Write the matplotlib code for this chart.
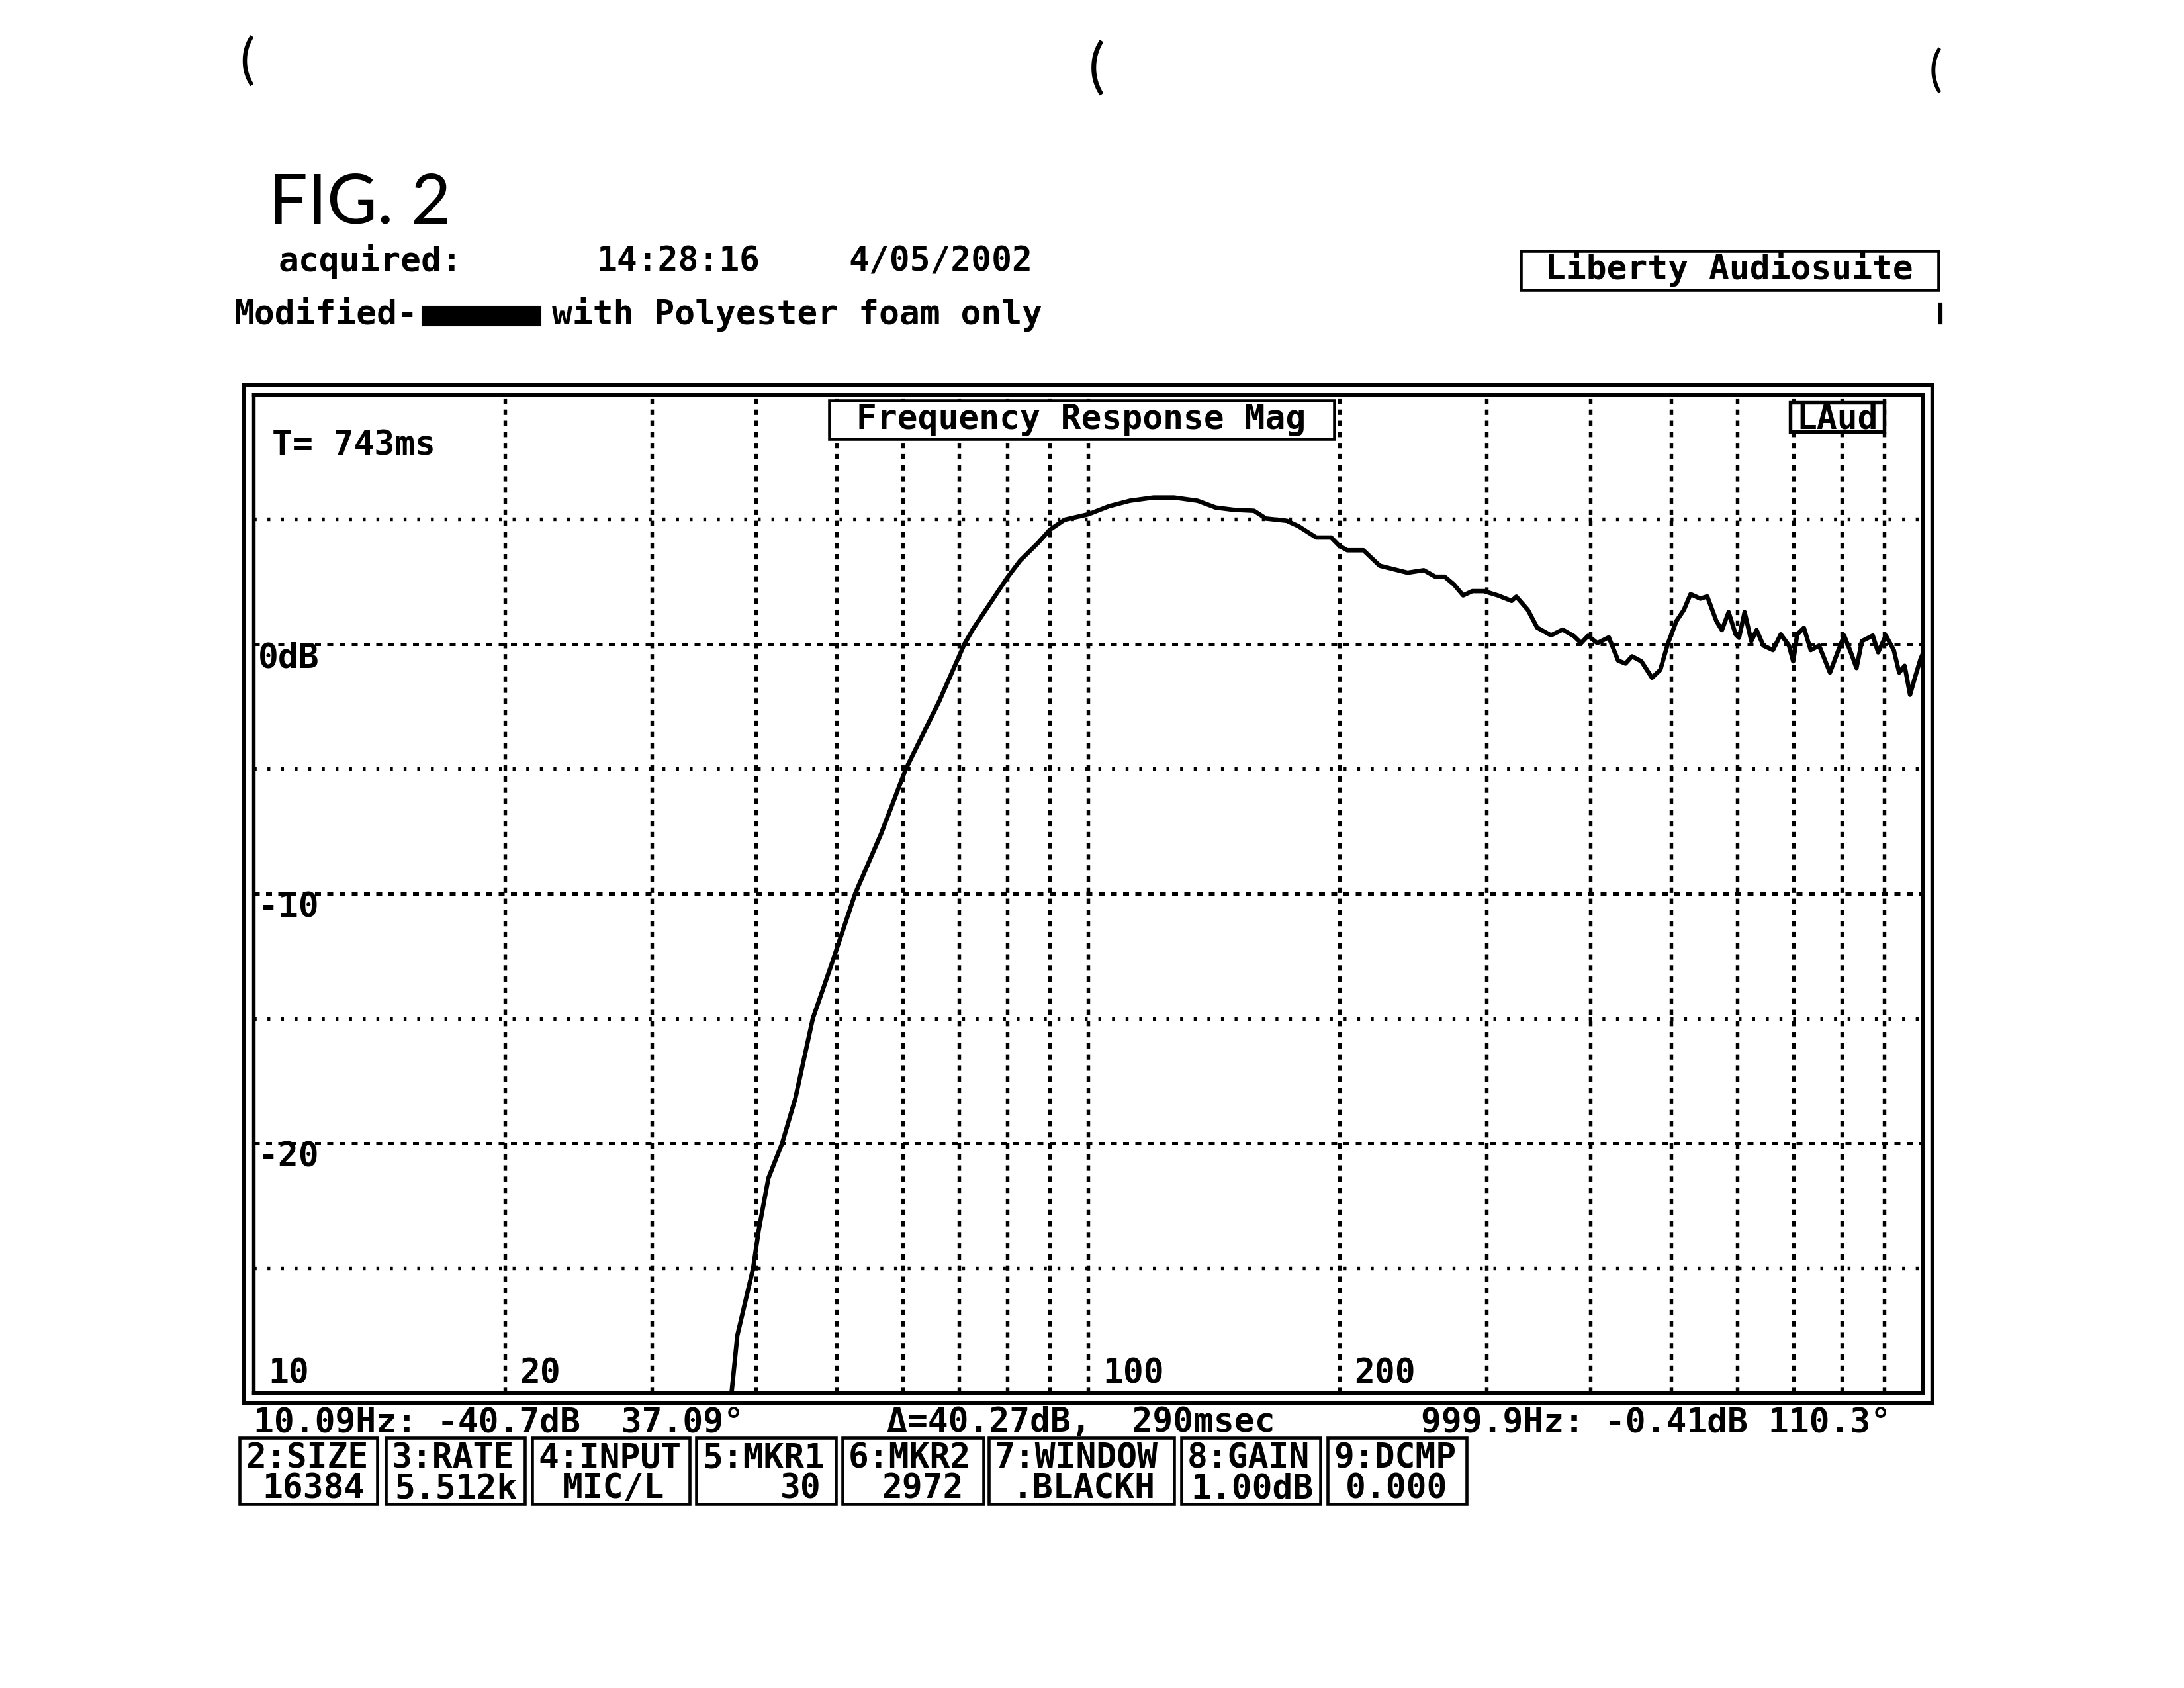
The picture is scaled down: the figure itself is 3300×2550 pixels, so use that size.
import matplotlib
matplotlib.use("Agg")
import matplotlib.pyplot as plt
from matplotlib.patches import Rectangle
from matplotlib.lines import Line2D

# Frequency response trace
freq_hz = [37.4, 38.0, 39.7, 40.3, 41.4, 43.0, 44.6, 46.8, 49.2, 52.6,
           56.5, 60.5, 66.3, 71.1, 72.8, 76.4, 79.9, 82.9, 87.1, 90.0,
           93.7, 100.1, 105.9, 112.2, 119.8, 126.8, 135.3, 142.2, 149.3, 158.1,
           163.4, 173.0, 178.8, 187.7, 195.6, 200.0, 204.5, 213.8, 223.6, 232.4,
           241.5, 252.5, 260.7, 267.5, 274.4, 281.5, 288.7, 298.1, 309.7, 321.8,
           326.0, 336.5, 345.3, 358.7, 370.4, 382.4, 389.8, 397.3, 407.6, 420.8,
           431.7, 440.6, 448.6, 460.3, 474.0, 485.0, 495.0, 507.0, 517.6, 527.2,
           541.6, 552.0, 566.2, 574.8, 585.6, 597.0, 602.6, 612.0, 623.4, 632.6,
           644.5, 661.8, 676.2, 691.7, 699.8, 707.6, 720.8, 734.5, 751.6, 774.5,
           791.0, 805.4, 820.4, 833.3, 845.9, 871.6, 884.6, 903.6, 923.6, 937.5,
           951.7, 966.0, 979.5, 994.3, 999.9]
level_db = [-30.0, -27.7, -25.0, -23.5, -21.4, -20.0, -18.2, -15.0, -12.9, -10.0,
            -7.6, -5.0, -2.3, 0.0, 0.6, 1.65, 2.63, 3.34, 4.05, 4.58,
            4.98, 5.2, 5.52, 5.74, 5.87, 5.87, 5.74, 5.47, 5.38, 5.34,
            5.03, 4.94, 4.72, 4.27, 4.27, 3.94, 3.76, 3.76, 3.14, 3.0,
            2.86, 2.96, 2.70, 2.70, 2.39, 1.95, 2.12, 2.12, 1.95, 1.73,
            1.90, 1.37, 0.66, 0.35, 0.58, 0.31, 0.04, 0.33, 0.04, 0.27,
            -0.66, -0.78, -0.49, -0.69, -1.35, -1.03, 0.0, 0.92, 1.37, 2.0,
            1.82, 1.91, 0.92, 0.56, 1.28, 0.39, 0.25, 1.28, 0.12, 0.56,
            -0.06, -0.24, 0.39, -0.06, -0.69, 0.39, 0.65, -0.24, -0.06, -1.14,
            -0.33, 0.34, -0.33, -0.96, 0.12, 0.34, -0.33, 0.34, -0.24, -1.14,
            -0.87, -2.03, -1.32, -0.6, -0.41]

x_grid_hz = [20, 30, 40, 50, 60, 70, 80, 90, 100, 200, 300, 400, 500, 600, 700, 800, 900]
y_major_db = [-20, -10, 0]
y_minor_db = [-25, -15, -5, 5]

x_label_hz = [10, 20, 100, 200]
x_labels = ["10", "20", "100", "200"]
y_label_db = [0, -10, -20]
y_labels = ["0dB", "-10", "-20"]

acquired_time = "14:28:16"
acquired_date = "4/05/2002"
status_left = "10.09Hz: -40.7dB  37.09\u00b0"
status_mid = "\u0394=40.27dB,  290msec"
status_right = "999.9Hz: -0.41dB 110.3\u00b0"

param_names = ["2:SIZE", "3:RATE", "4:INPUT", "5:MKR1", "6:MKR2", "7:WINDOW", "8:GAIN", "9:DCMP"]
param_values = ["16384", "5.512k", "MIC/L", "30", "2972", ".BLACKH", "1.00dB", "0.000"]

# layout in output pixels (figure is 3300 x 2550)
W, H = 3300, 2550
box_edges = [(362, 570), (583, 793), (804, 1042), (1052, 1263),
             (1273, 1486), (1494, 1774), (1785, 1995), (2006, 2216)]
value_left = [396, 596, 850, 1179, 1332, 1530, 1799, 2033]

plt.rcParams['font.family'] = ['DejaVu Sans Mono', 'DejaVu Sans']
plt.rcParams['font.weight'] = 'bold'
FS = 12.3


def fx(x):
    return x / W


def fy(y):
    return 1 - y / H


def ftext(x, y, s, **kw):
    # y is the text baseline in pixels
    kw.setdefault('fontsize', FS)
    kw.setdefault('va', 'baseline')
    fig.text(fx(x), fy(y), s, **kw)


def fbox(x0, y0, x1, y1, lw=1.1, fill=False, fc='white'):
    r = Rectangle((fx(x0), fy(y1)), (x1 - x0) / W, (y1 - y0) / H,
                  transform=fig.transFigure, fill=fill, facecolor=fc,
                  edgecolor='black', lw=lw, zorder=2)
    fig.add_artist(r)


fig = plt.figure(figsize=(11, 8.5), dpi=300)
fig.patch.set_facecolor('white')

ax = fig.add_axes([fx(383), fy(2104), (2905 - 383) / W, (2104 - 596) / H])
ax.set_xscale('log')
ax.set_xlim(10, 1000)
ax.set_ylim(-30, 10)

# grid
ax.set_xticks(x_grid_hz)
ax.xaxis.set_minor_locator(matplotlib.ticker.NullLocator())
ax.set_yticks(y_major_db)
ax.set_yticks(y_minor_db, minor=True)
ax.grid(True, axis='x', which='major', color='black', lw=1.3, linestyle=(0, (1.5, 1.6)))
ax.grid(True, axis='y', which='major', color='black', lw=1.2, linestyle=(0, (1.8, 1.9)))
ax.grid(True, axis='y', which='minor', color='black', lw=1.3, linestyle=(0, (0.8, 3.0)))
ax.tick_params(which='both', length=0, labelleft=False, labelbottom=False)
for sp in ax.spines.values():
    sp.set_linewidth(1.3)

# trace
ax.plot(freq_hz, level_db, color='black', lw=1.6, zorder=3)

# in-plot labels
for f, lbl in zip(x_label_hz, x_labels):
    ax.annotate(lbl, xy=(f, 0), xycoords=('data', 'axes fraction'),
                xytext=(5.3, 3.6), textcoords='offset points',
                va='baseline', ha='left', fontsize=FS)
for d, lbl in zip(y_label_db, y_labels):
    ax.annotate(lbl, xy=(0, d), xycoords=('axes fraction', 'data'),
                xytext=(1.6, -8.6), textcoords='offset points',
                va='baseline', ha='left', fontsize=FS)
ftext(411, 687, "T= 743ms")

fbox(1253, 605, 2016, 663, lw=1.1, fill=True)
ftext(1634, 648, "Frequency Response Mag", ha='center', zorder=3)
fbox(2705, 608, 2847, 652, lw=1.3, fill=True)
ftext(2776, 648, "LAud", ha='center', zorder=3)

# outer frame around the plot
fbox(368, 581, 2919, 2119, lw=1.3)

# header
fig.text(fx(406), fy(337), "FIG. 2", fontsize=25, family='Lato',
         fontweight='normal', va='baseline')
ftext(421, 410, "acquired:")
ftext(901, 410, acquired_time)
ftext(1282, 410, acquired_date)
ftext(354, 490, "Modified-")
fbox(638, 463, 817, 492, lw=0.5, fill=True, fc='black')
ftext(834, 490, "with Polyester foam only")
fbox(2298, 379, 2929, 438, lw=1.1)
ftext(2613, 422, "Liberty Audiosuite", ha='center')
fig.add_artist(Line2D([fx(2932), fx(2932)], [fy(460), fy(487)],
                      transform=fig.transFigure, color='black', lw=1.5))

# punch-hole marks from the scan
for x, y, s in [(362, 95, 20), (1645, 105, 22), (2915, 108, 18)]:
    fig.text(fx(x), fy(y), "(", fontsize=s, family='Lato',
             fontweight='normal', va='center')

# status line under the plot
ftext(383, 2163, status_left)
ftext(1340, 2163, status_mid)
ftext(2147, 2163, status_right)

# parameter boxes
for (x0, x1), name, val, vx in zip(box_edges, param_names, param_values, value_left):
    fbox(x0, 2172, x1, 2272, lw=1.1)
    ftext(x0 + 9, 2217, name)
    ftext(vx, 2264, val)

fig.savefig("out.png", dpi=300, facecolor='white')
plt.close(fig)
